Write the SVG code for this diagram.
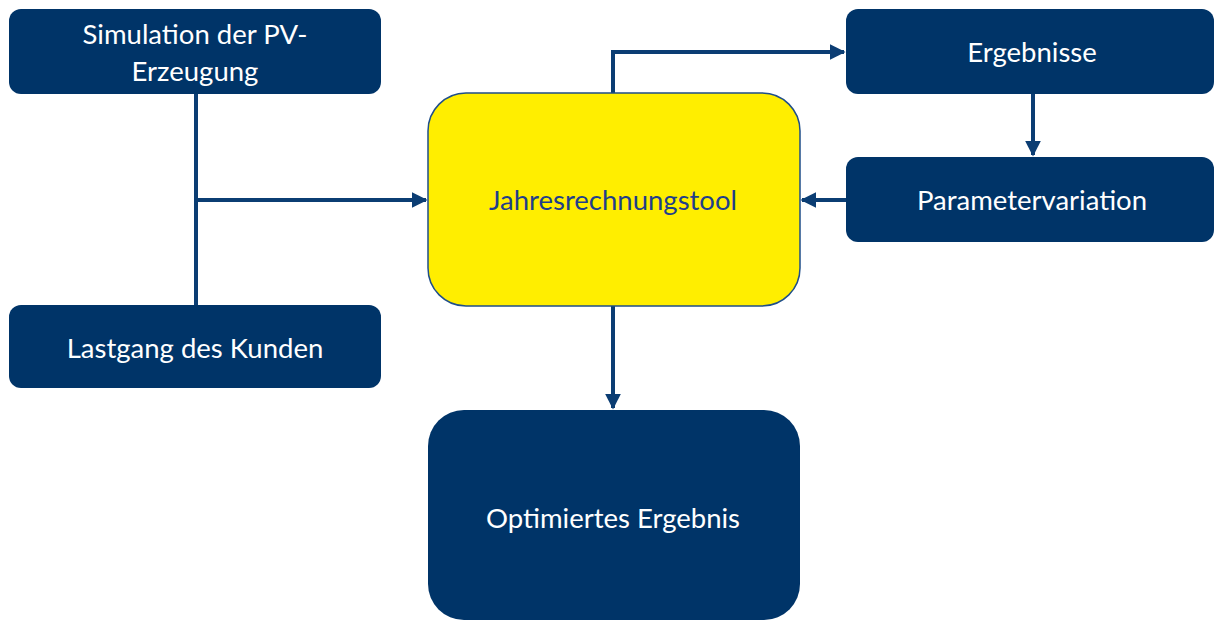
<svg xmlns="http://www.w3.org/2000/svg" width="1215" height="621" viewBox="0 0 1215 621">
  <defs>
    <marker id="arrow" viewBox="0 0 10 10" refX="9" refY="5" markerWidth="4" markerHeight="4" orient="auto" markerUnits="strokeWidth">
      <path d="M0,0 L10,5 L0,10 Z" fill="#0B3D73"/>
    </marker>
    <style>
      .box { fill: #003468; }
      .tool { fill: #FFEE00; stroke: #1F4E89; stroke-width: 1.5; }
      .lbl { font-family: Lato, "Open Sans", "Liberation Sans", sans-serif; font-size: 27.5px; fill: #FFFFFF; text-anchor: middle; }
      .lbl-dark { fill: #1F3F8A; }
      .wire { fill: none; stroke: #0B3D73; stroke-width: 4; }
    </style>
  </defs>
  <rect width="1215" height="621" fill="#FFFFFF"/>

  <g id="connectors">
    <!-- PV simulation and load profile feed the tool -->
    <path class="wire" d="M196,94 V305"/>
    <path class="wire" d="M196,200 H426" marker-end="url(#arrow)"/>
    <!-- tool to results -->
    <path class="wire" d="M613,93 V52 H844" marker-end="url(#arrow)"/>
    <!-- results to parameter variation -->
    <path class="wire" d="M1033,94 V155" marker-end="url(#arrow)"/>
    <!-- parameter variation back to tool -->
    <path class="wire" d="M846,200 H802" marker-end="url(#arrow)"/>
    <!-- tool to optimised result -->
    <path class="wire" d="M613,306 V408" marker-end="url(#arrow)"/>
  </g>

  <g id="pv-simulation">
    <rect class="box" x="9" y="9" width="372" height="85" rx="12"/>
    <text class="lbl" x="195" y="44">Simulation der PV-</text>
    <text class="lbl" x="195" y="81">Erzeugung</text>
  </g>

  <g id="load-profile">
    <rect class="box" x="9" y="305" width="372" height="83" rx="12"/>
    <text class="lbl" x="195" y="358">Lastgang des Kunden</text>
  </g>

  <g id="annual-tool">
    <rect class="tool" x="428" y="93" width="372" height="213" rx="38"/>
    <text class="lbl lbl-dark" x="613" y="210">Jahresrechnungstool</text>
  </g>

  <g id="results">
    <rect class="box" x="846" y="9" width="368" height="85" rx="12"/>
    <text class="lbl" x="1032" y="62">Ergebnisse</text>
  </g>

  <g id="parameter-variation">
    <rect class="box" x="846" y="157" width="368" height="85" rx="12"/>
    <text class="lbl" x="1032" y="210">Parametervariation</text>
  </g>

  <g id="optimised-result">
    <rect class="box" x="428" y="410" width="372" height="210" rx="36"/>
    <text class="lbl" x="613" y="528">Optimiertes Ergebnis</text>
  </g>
</svg>
